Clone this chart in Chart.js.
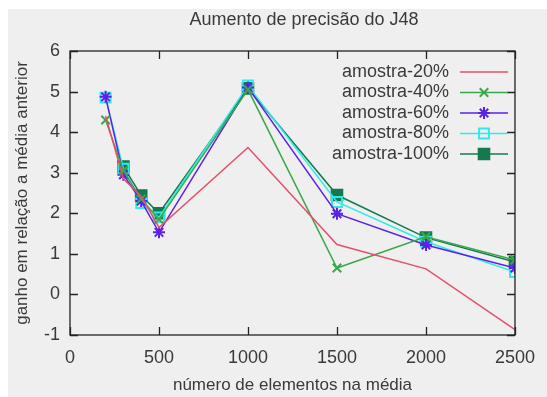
<!DOCTYPE html>
<html><head><meta charset="utf-8">
<script src="https://cdn.jsdelivr.net/npm/chart.js@4/dist/chart.umd.min.js"></script>
<style>html,body{margin:0;padding:0;background:#fff;overflow:hidden;}#wrap{width:547px;height:397px;}canvas{display:block;}</style>
</head><body><div id="wrap"><canvas id="c" width="547" height="397"></canvas></div>
<script>
const chartTitle = "Aumento de precisão do J48";
const xTitle = "número de elementos na média";
const yTitle = "ganho em relação a média anterior";
const elementCounts = [200, 300, 400, 500, 1000, 1500, 2000, 2500];
const sample20 = [4.4, 2.85, 2.42, 1.65, 3.62, 1.23, 0.63, -0.87];
const sample40 = [4.3, 3.05, 2.35, 1.85, 5.05, 0.65, 1.42, 0.85];
const sample60 = [4.87, 2.95, 2.3, 1.53, 5.1, 1.99, 1.22, 0.65];
const sample80 = [4.85, 3.1, 2.25, 1.9, 5.15, 2.28, 1.3, 0.55];
const sample100 = [null, 3.15, 2.44, 2.0, 5.08, 2.45, 1.4, 0.8];
const seriesLabels = ["amostra-20%", "amostra-40%", "amostra-60%", "amostra-80%", "amostra-100%"];
const xTicks = [0, 500, 1000, 1500, 2000, 2500];
const yTicks = [-1, 0, 1, 2, 3, 4, 5, 6];

const FONT = "'Liberation Sans', Arial, sans-serif";
const TXT = '#3a3a3a';
const L = 70, R = 528, T = 51, B = 335;

function pts(arr){ return elementCounts.map((x,i)=>({x:x,y:arr[i]})).filter(p=>p.y!==null); }

const styles = [
  {color:'#e5506a', pointStyle:false, radius:0},
  {color:'#3aa84a', pointStyle:'crossRot', radius:6},
  {color:'#5a22e6', pointStyle:'star', radius:6},
  {color:'#30eaea', pointStyle:'rect', radius:7, open:true},
  {color:'#147a4e', pointStyle:'rect', radius:7.5}
];
const values = [sample20, sample40, sample60, sample80, sample100];

const datasets = values.map((v,i)=>({
  label: seriesLabels[i],
  data: pts(v),
  borderColor: styles[i].color,
  backgroundColor: styles[i].open ? 'rgba(0,0,0,0)' : styles[i].color,
  borderWidth: 1.5,
  pointStyle: styles[i].pointStyle || 'circle',
  pointRadius: styles[i].radius,
  pointBorderWidth: 2,
  pointBorderColor: styles[i].color,
  pointBackgroundColor: styles[i].open ? 'rgba(0,0,0,0)' : styles[i].color,
  tension: 0,
  fill: false
}));

const decor = {
  id:'decor',
  beforeDraw(chart){
    const ctx = chart.ctx;
    ctx.save();
    ctx.fillStyle = '#ffffff';
    ctx.fillRect(0,0,chart.width,chart.height);
    ctx.fillStyle = '#efefef';
    ctx.fillRect(8,9,chart.width-8,chart.height-9);
    ctx.restore();
  },
  afterDraw(chart){
    const ctx = chart.ctx;
    const xs = chart.scales.x, ys = chart.scales.y;
    const ca = chart.chartArea;
    ctx.save();
    ctx.strokeStyle = '#222';
    ctx.lineWidth = 1.3;
    ctx.strokeRect(ca.left, ca.top, ca.right-ca.left, ca.bottom-ca.top);
    const tl = 8;
    ctx.beginPath();
    xTicks.forEach(v=>{
      const px = Math.round(xs.getPixelForValue(v))+0.5;
      ctx.moveTo(px, ca.bottom); ctx.lineTo(px, ca.bottom - tl);
      ctx.moveTo(px, ca.top); ctx.lineTo(px, ca.top + tl);
    });
    yTicks.forEach(v=>{
      const py = Math.round(ys.getPixelForValue(v))+0.5;
      ctx.moveTo(ca.left, py); ctx.lineTo(ca.left + tl, py);
      ctx.moveTo(ca.right, py); ctx.lineTo(ca.right - tl, py);
    });
    ctx.stroke();
    ctx.fillStyle = TXT;
    ctx.textAlign = 'center';
    ctx.textBaseline = 'middle';
    ctx.font = '18px ' + FONT;
    ctx.fillText(chartTitle, 304, 20);
    ctx.font = '17px ' + FONT;
    ctx.fillText(xTitle, (ca.left+ca.right)/2, 385);
    ctx.save();
    ctx.translate(22, (ca.top+ca.bottom)/2);
    ctx.rotate(-Math.PI/2);
    ctx.fillText(yTitle, 0, 0);
    ctx.restore();
    const rowY = [72, 92.5, 113, 133.5, 154];
    chart.data.datasets.forEach((ds,i)=>{
      const y = rowY[i];
      ctx.fillStyle = TXT;
      ctx.font = '18px ' + FONT;
      ctx.textAlign = 'right';
      ctx.textBaseline = 'middle';
      ctx.fillText(ds.label, 449, y);
      ctx.strokeStyle = ds.borderColor;
      ctx.lineWidth = 1.5;
      ctx.beginPath(); ctx.moveTo(460, y); ctx.lineTo(508, y); ctx.stroke();
      if (ds.pointRadius > 0) {
        ctx.strokeStyle = ds.pointBorderColor;
        ctx.fillStyle = ds.pointBackgroundColor;
        ctx.lineWidth = ds.pointBorderWidth;
        Chart.helpers.drawPoint(ctx, {pointStyle: ds.pointStyle, radius: ds.pointRadius, rotation: 0, borderWidth: ds.pointBorderWidth}, 484, y);
      }
    });
    ctx.restore();
  }
};

new Chart(document.getElementById('c'), {
  type: 'line',
  data: { datasets: datasets },
  plugins: [decor],
  options: {
    responsive: false,
    animation: false,
    devicePixelRatio: 1,
    layout: { padding: { left: 0, right: 547 - R, top: T, bottom: 0 } },
    plugins: { legend: { display: false }, title: { display: false }, tooltip: { enabled: false } },
    scales: {
      x: {
        type: 'linear', min: 0, max: 2500,
        afterBuildTicks(s){ s.ticks = xTicks.map(v=>({value:v})); },
        afterFit(s){ s.height = 397 - B; },
        grid: { display: false, drawTicks: false },
        border: { display: false },
        ticks: { color: TXT, font: { family: FONT, size: 18 }, padding: 12, maxRotation: 0, autoSkip: false,
                 callback: v => String(v) }
      },
      y: {
        type: 'linear', min: -1, max: 6,
        afterBuildTicks(s){ s.ticks = yTicks.map(v=>({value:v})); },
        afterFit(s){ s.width = L; },
        grid: { display: false, drawTicks: false },
        border: { display: false },
        ticks: { color: TXT, font: { family: FONT, size: 18 }, padding: 10, autoSkip: false,
                 callback: v => String(v) }
      }
    }
  }
});
</script></body></html>
